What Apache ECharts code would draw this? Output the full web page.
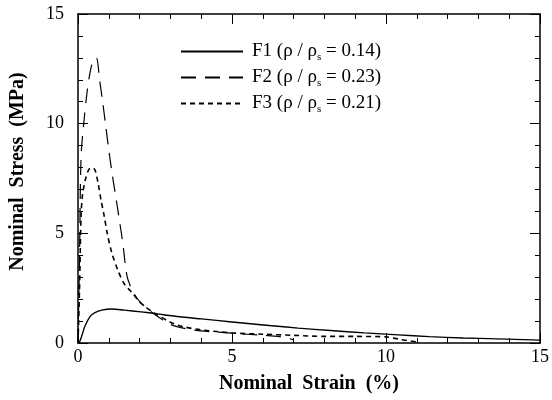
<!DOCTYPE html>
<html><head><meta charset="utf-8">
<script src="https://cdn.jsdelivr.net/npm/echarts@6/dist/echarts.min.js"></script>
<style>html,body{margin:0;padding:0;background:#fff}#c{width:552px;height:400px}</style>
</head><body><div id="c"></div>
<script>
// ---- data (strain %, stress MPa) ----
var f1Strain = [0, 0.05, 0.13, 0.22, 0.39, 0.55, 0.77, 1.1, 1.5, 2.05, 2.57, 3.1, 4.0, 5.0, 6.2, 7.15, 8.2, 9.3, 10.4, 11.4, 12.5, 13.6, 15];
var f1Stress = [0, 0.05, 0.35, 0.75, 1.2, 1.38, 1.5, 1.55, 1.5, 1.42, 1.33, 1.23, 1.1, 0.96, 0.8, 0.68, 0.57, 0.46, 0.37, 0.29, 0.23, 0.19, 0.13];
var f2Strain = [0, 0.05, 0.1, 0.2, 0.3, 0.4, 0.5, 0.6, 0.7, 0.8, 0.9, 1.0, 1.1, 1.2, 1.3, 1.45, 1.6, 1.8, 2.0, 2.3, 2.6, 3.0, 3.5, 4, 5, 6, 6.5, 7];
var f2Stress = [0, 4, 8.5, 10.2, 11.5, 12.4, 12.9, 13.0, 12.0, 11.0, 9.9, 8.8, 7.8, 6.9, 6.0, 4.6, 3.0, 2.3, 1.9, 1.5, 1.2, 0.85, 0.65, 0.55, 0.45, 0.35, 0.3, 0.15];
var f3Strain = [0, 0.05, 0.1, 0.15, 0.25, 0.35, 0.45, 0.55, 0.65, 0.75, 0.85, 0.95, 1.1, 1.3, 1.5, 1.75, 2.05, 2.5, 3.0, 3.4, 4.0, 5, 6, 7, 8, 9, 10, 10.5, 11];
var f3Stress = [0, 2.5, 5.8, 6.8, 7.5, 7.9, 8.0, 7.9, 7.3, 6.5, 5.8, 5.0, 4.1, 3.3, 2.7, 2.3, 1.8, 1.35, 0.95, 0.75, 0.6, 0.46, 0.4, 0.35, 0.3, 0.3, 0.28, 0.15, 0.05];
var seriesNames = ['F1', 'F2', 'F3'];
var densityRatios = ['0.14', '0.23', '0.21'];
var xTicks = [0, 5, 10, 15];
var yTicks = [0, 5, 10, 15];

function pairs(xs, ys) { return xs.map(function (x, i) { return [x, ys[i]]; }); }

var FONT = '"Liberation Serif","DejaVu Serif",serif';
var chart = echarts.init(document.getElementById('c'), null, {renderer: 'canvas'});
var axisCommon = {
  type: 'value', min: 0, max: 15, interval: 5,
  axisLine: {show: true, onZero: false, lineStyle: {color: '#000', width: 1.5}},
  axisTick: {show: true, inside: true, length: 10, lineStyle: {color: '#000', width: 1}},
  minorTick: {show: true, splitNumber: 5, length: 5, lineStyle: {color: '#000', width: 1}},
  splitLine: {show: false}
};
function ax(extra) { return Object.assign({}, JSON.parse(JSON.stringify(axisCommon)), extra); }

var labelStyle = {color: '#000', fontFamily: FONT, fontSize: 18};
var nameStyle = {color: '#000', fontFamily: FONT, fontSize: 20, fontWeight: 'bold'};

chart.setOption({
  animation: false,
  backgroundColor: '#fff',
  grid: {left: 77, right: 8, top: 14, bottom: 57},
  legend: {
    orient: 'vertical', left: 180, top: 42, itemGap: 5, padding: 0,
    itemWidth: 62, itemHeight: 20,
    data: seriesNames,
    itemStyle: {color: 'transparent', borderWidth: 0, opacity: 0},
    textStyle: {color: '#000', fontFamily: FONT, fontSize: 19, padding: [0, 0, 0, 4],
      rich: {
        a: {fontFamily: FONT, fontSize: 19, color: '#000'},
        s: {fontFamily: FONT, fontSize: 11, color: '#000', verticalAlign: 'bottom', padding: [12, 0, 0, 0]}
      }
    },
    formatter: function (name) {
      var i = seriesNames.indexOf(name);
      return '{a|' + name + ' (ρ / ρ}{s|s}{a| = ' + densityRatios[i] + ')}';
    }
  },
  xAxis: [
    ax({position: 'bottom', name: 'Nominal  Strain  (%)', nameLocation: 'middle', nameGap: 31,
        nameTextStyle: nameStyle, axisLabel: Object.assign({margin: 5}, labelStyle)}),
    ax({position: 'top', axisLabel: {show: false}})
  ],
  yAxis: [
    ax({position: 'left', name: 'Nominal  Stress  (MPa)', nameLocation: 'middle', nameGap: 50,
        nameTextStyle: Object.assign({padding: [0, 0, 0, 14]}, nameStyle),
        axisLabel: Object.assign({margin: 14}, labelStyle)}),
    ax({position: 'right', axisLabel: {show: false}})
  ],
  series: [
    {name: 'F1', type: 'line', data: pairs(f1Strain, f1Stress), symbol: 'none', smooth: 0.3,
     lineStyle: {color: '#000', width: 1.4, type: 'solid'}, itemStyle: {color: '#000'}},
    {name: 'F2', type: 'line', data: pairs(f2Strain, f2Stress), symbol: 'none', smooth: 0.3,
     lineStyle: {color: '#000', width: 1.2, type: [15, 9]}, itemStyle: {color: '#000'}},
    {name: 'F3', type: 'line', data: pairs(f3Strain, f3Stress), symbol: 'none', smooth: 0.3,
     lineStyle: {color: '#000', width: 1.6, type: [5, 4]}, itemStyle: {color: '#000'}}
  ]
});
</script></body></html>
